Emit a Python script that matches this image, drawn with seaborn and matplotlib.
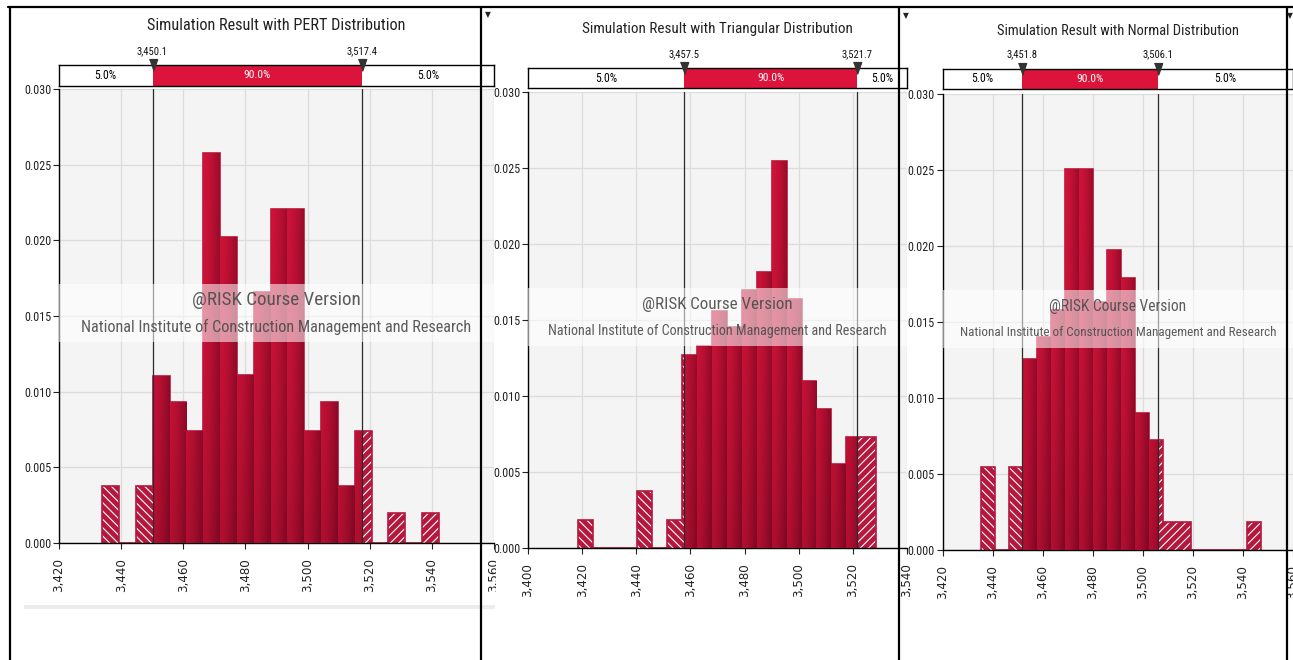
import numpy as np
import pandas as pd
import matplotlib
matplotlib.use("Agg")
import matplotlib.pyplot as plt
import seaborn as sns
from matplotlib import font_manager
from matplotlib.patches import Rectangle
from matplotlib.lines import Line2D
from matplotlib.ticker import FuncFormatter

titles = ["Simulation Result with PERT Distribution",
          "Simulation Result with Triangular Distribution",
          "Simulation Result with Normal Distribution"]

pert_start, pert_width = 3433.9, 5.42
pert_density = [0.00374, 0.0, 0.00374, 0.01105, 0.00929, 0.00742, 0.02575, 0.02022,
                0.01107, 0.01657, 0.0221, 0.0221, 0.00742, 0.00929, 0.00374, 0.00742,
                0.0, 0.00198, 0.0, 0.00198]
pert_pct = [3450.1, 3517.4]

tri_start, tri_width = 3418.4, 5.51
tri_density = [0.00186, 0.0, 0.0, 0.0, 0.00373, 0.0, 0.00186, 0.01272, 0.0133, 0.0156,
               0.01454, 0.0170, 0.01816, 0.02548, 0.01638, 0.01096, 0.00917, 0.00553,
               0.0073, 0.0073]
tri_pct = [3457.5, 3521.7]

norm_start, norm_width = 3435.5, 5.587
norm_density = [0.00544, 0.0, 0.00544, 0.01259, 0.0140, 0.0158, 0.02504, 0.02504, 0.0163,
                0.01971, 0.01792, 0.00904, 0.00724, 0.00186, 0.00186, 0.0, 0.0, 0.0, 0.0,
                0.00186]
norm_pct = [3451.8, 3506.1]

pert_xticks = [3420, 3440, 3460, 3480, 3500, 3520, 3540, 3560]
tri_xticks = [3400, 3420, 3440, 3460, 3480, 3500, 3520, 3540]
norm_xticks = [3420, 3440, 3460, 3480, 3500, 3520, 3540, 3560]
yticks = [0.0, 0.005, 0.010, 0.015, 0.020, 0.025, 0.030]
strip_labels = ["5.0%", "90.0%", "5.0%"]
watermark = ["@RISK Course Version",
             "National Institute of Construction Management and Research"]

# ---- styling / layout (pixels of the 1293x660 screenshot) ----
sns.set_style("white")
names = {f.name for f in font_manager.fontManager.ttflist}
narrow = next((n for n in ["Liberation Sans Narrow", "Roboto Condensed", "Open Sans Condensed"]
               if n in names), "DejaVu Sans")
plt.rcParams["font.family"] = ["DejaVu Sans"]
plt.rcParams["hatch.linewidth"] = 0.8

W, H = 1293, 660
RED = "#dc143c"
HATCH_RED = "#b5173d"

panels = [
    dict(start=pert_start, width=pert_width, dens=pert_density, pct=pert_pct, xticks=pert_xticks,
         box=(59, 89, 494, 543), strip=(65, 86), title_y=25, pct_y=51,
         w_title=257, w_wm=(169, 389)),
    dict(start=tri_start, width=tri_width, dens=tri_density, pct=tri_pct, xticks=tri_xticks,
         box=(528, 92, 907, 548), strip=(68, 88), title_y=29, pct_y=54,
         w_title=251, w_wm=(150, 340)),
    dict(start=norm_start, width=norm_width, dens=norm_density, pct=norm_pct, xticks=norm_xticks,
         box=(942.5, 94, 1293, 550), strip=(69, 89), title_y=31, pct_y=54,
         w_title=216, w_wm=(137, 314)),
]

fig = plt.figure(figsize=(12.93, 6.6), dpi=100)
renderer = fig.canvas.get_renderer()


def frac(l, t, r, b):
    return [l / W, 1 - b / H, (r - l) / W, (b - t) / H]


def fit_size(s, width_px, family=narrow):
    t = fig.text(0, 0, s, fontsize=10, family=family, fontstretch="condensed")
    w = t.get_window_extent(renderer).width
    t.remove()
    return 10 * width_px / w


# small labels keep the same size in every panel (fitted on the first one)
ytick_size = fit_size("0.030", 27)
pct_size = fit_size("3,450.1", 31)
side_size = fit_size("5.0%", 22)
mid_size = fit_size("90.0%", 27)
base_title = fit_size(titles[0], panels[0]["w_title"])


def bar_gradient(h, ymax, nx=24, ny=48):
    xf = np.linspace(0, 1, nx)[None, :, None]
    yabs = (np.linspace(0, h, ny) / ymax)[:, None, None]
    bright = np.array([216, 20, 60]) / 255
    dark = np.array([112, 6, 30]) / 255
    t = np.clip(0.08 + 0.5 * xf ** 1.5 + 0.3 * (1 - yabs) ** 2, 0, 1)
    return bright * (1 - t) + dark * t


ymax = max(yticks)
for i, (p, title) in enumerate(zip(panels, titles)):
    l, t, r, b = p["box"]
    ax = fig.add_axes(frac(l, t, r, b), zorder=0 if i == 0 else 2)
    ax.set_facecolor("#f4f4f4")
    dens = np.array(p["dens"])
    edges = p["start"] + p["width"] * np.arange(len(dens) + 1)
    centers = edges[:-1] + p["width"] / 2
    lo, hi = p["pct"]
    df = pd.DataFrame({"value": centers, "density": dens})

    # hatched layer (tails) via seaborn histogram
    sns.histplot(data=df, x="value", weights="density", bins=edges.tolist(), stat="count",
                 ax=ax, color=HATCH_RED, edgecolor="white", linewidth=0, alpha=1, zorder=2)
    for patch in ax.patches:
        cx = patch.get_x() + patch.get_width() / 2
        patch.set_hatch("\\\\\\\\" if cx < (lo + hi) / 2 else "////")
    ax.stairs(dens, edges, color=HATCH_RED, lw=1.2, zorder=2.5)

    # solid gradient for the 90% region
    for x0, h in zip(edges[:-1], dens):
        a, c = max(x0, lo), min(x0 + p["width"], hi)
        if c <= a or h <= 0:
            continue
        im = ax.imshow(bar_gradient(h, ymax), extent=(x0, x0 + p["width"], 0, h),
                       origin="lower", aspect="auto", interpolation="bilinear", zorder=3)
        im.set_clip_path(Rectangle((a, 0), c - a, h, transform=ax.transData))

    for v in p["pct"]:
        ax.axvline(v, color="#2a2a2a", lw=0.9, zorder=4)

    ax.set_xlim(p["xticks"][0], p["xticks"][-1])
    ax.set_ylim(0, ymax)
    ax.set_xticks(p["xticks"])
    ax.set_yticks(yticks)
    ax.xaxis.set_major_formatter(FuncFormatter(lambda v, _: f"{v:,.0f}"))
    ax.yaxis.set_major_formatter(FuncFormatter(lambda v, _: f"{v:.3f}"))
    ax.set_xlabel("")
    ax.set_ylabel("")
    ax.grid(True, color="#dcdcdc", lw=0.9)
    ax.set_axisbelow(True)
    for side in ["top", "right"]:
        ax.spines[side].set_visible(False)
    for side in ["left", "bottom"]:
        ax.spines[side].set_color("black")
        ax.spines[side].set_linewidth(1.0)
    ax.tick_params(axis="x", rotation=90, labelsize=8.6, length=4, width=0.8, pad=7,
                   colors="#222222", bottom=True)
    ax.tick_params(axis="y", labelsize=ytick_size, length=4, width=0.8, pad=1.5,
                   colors="#222222", left=True)
    for lab in ax.get_yticklabels():
        lab.set_family(narrow)
        lab.set_fontstretch("condensed")

    # watermark band
    ax.add_patch(Rectangle((0, 0.443), 1, 0.127, transform=ax.transAxes, facecolor="white",
                           alpha=0.55, lw=0, zorder=5))
    for txt, yy, wpx in zip(watermark, [0.535, 0.476], p["w_wm"]):
        ax.text(0.5, yy, txt, transform=ax.transAxes, ha="center", va="center",
                fontsize=fit_size(txt, wpx), family=narrow, fontstretch="condensed",
                color="#4a4a4a", alpha=0.9, zorder=6)

    # percentile strip
    st, sb = p["strip"]
    sax = fig.add_axes(frac(l, st, r, sb), zorder=0 if i == 0 else 2)
    x0, x1 = p["xticks"][0], p["xticks"][-1]
    sax.set_xlim(x0, x1)
    sax.set_ylim(0, 1)
    sax.set_facecolor("white")
    sax.axvspan(lo, hi, color=RED, lw=0)
    sax.set_xticks([])
    sax.set_yticks([])
    for sp in sax.spines.values():
        sp.set_color("black")
        sp.set_linewidth(1.0)
    segs = [(x0, lo), (lo, hi), (hi, x1)]
    for k, ((s0, s1), lab) in enumerate(zip(segs, strip_labels)):
        is_mid = k == 1
        sax.text((s0 + s1) / 2, 0.5, lab, ha="center", va="center",
                 fontsize=mid_size if is_mid else side_size, family=narrow,
                 fontstretch="condensed", color="white" if is_mid else "black")
    for v in p["pct"]:
        sax.plot([v], [1.0], marker=[(-3.5, 5), (3.5, 5), (0, -5)], ms=8.5, color="#333333",
                 clip_on=False, zorder=5)
        lx = ax.transData.transform((v, 0))[0] / W
        fig.text(lx, 1 - p["pct_y"] / H, f"{v:,.1f}", ha="center", va="center",
                 fontsize=pct_size, family=narrow, fontstretch="condensed",
                 color="#111111", zorder=3)

    title_size = (base_title * fit_size(title, p["w_title"])) ** 0.5
    fig.text(((l + r) / 2) / W, 1 - p["title_y"] / H, title, ha="center", va="center",
             fontsize=title_size, family=narrow, fontstretch="condensed",
             color="#222222", zorder=3)

# white gap between first and second panel
fig.add_artist(Rectangle((496 / W, 1 - 600 / H), 31 / W, 540 / H, transform=fig.transFigure,
                         facecolor="white", lw=0, zorder=1))
# light scroll band under the first panel
fig.add_artist(Rectangle((24 / W, 1 - 609 / H), 471 / W, 4 / H, transform=fig.transFigure,
                         facecolor="#ececec", lw=0, zorder=1))

# window frame lines
frame = [((8, 7), (1293, 7)), ((10, 7), (10, 660)), ((481, 7), (481, 660)),
         ((899, 7), (899, 660)), ((1287, 7), (1287, 660))]
for (xa, ya), (xb, yb) in frame:
    fig.add_artist(Line2D([xa / W, xb / W], [1 - ya / H, 1 - yb / H], transform=fig.transFigure,
                          color="black", lw=1.6, zorder=20))
for xm, ym in [(488, 15), (906, 16), (1290, 16)]:
    fig.text(xm / W, 1 - ym / H, "\u25bc", ha="center", va="center", fontsize=5.5,
             color="#222222", zorder=21)

fig.savefig("out.png", dpi=100)
